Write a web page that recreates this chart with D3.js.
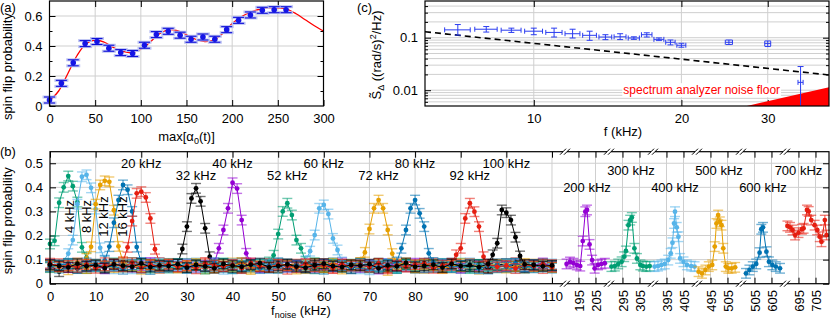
<!DOCTYPE html>
<html>
<head>
<meta charset="utf-8">
<script src="https://cdn.jsdelivr.net/npm/d3@7/dist/d3.min.js"></script>
<style>
  body { margin: 0; background: #fff; }
</style>
</head>
<body>
<svg id="chart" width="830" height="322"></svg>
<script>
// ---------- panel (a) data ----------
const aAmp = [0, 13, 26, 39, 52, 65, 78, 91, 104, 117, 130, 143, 155, 168, 181, 194, 207, 220, 233, 246, 259];
const aProb = [0.040, 0.151, 0.288, 0.416, 0.430, 0.385, 0.356, 0.350, 0.405, 0.476, 0.498,
  0.472, 0.445, 0.460, 0.445, 0.509, 0.571, 0.607, 0.638, 0.642, 0.642];
const aErr = 0.02;
const aFitX = [0, 10, 20, 30, 40, 50, 60, 70, 80, 90, 100, 110, 120, 130, 140, 150,
  160, 170, 180, 190, 200, 210, 220, 230, 240, 250, 260, 270, 280, 290, 300];
const aFitY = [0.035, 0.10, 0.215, 0.335, 0.415, 0.44, 0.425, 0.39, 0.365, 0.355, 0.378,
  0.425, 0.48, 0.508, 0.502, 0.475, 0.445, 0.43, 0.44, 0.485, 0.55, 0.595, 0.625,
  0.645, 0.655, 0.655, 0.645, 0.615, 0.575, 0.535, 0.50];

// ---------- panel (b) data ----------
// coarse scan grid shared by the low-frequency series (kHz)
const mainF = [0, 2, 4, 6, 8, 10, 12, 14, 16, 18, 20, 22, 24, 26,
  28, 30, 32, 34, 36, 38, 40, 42, 44, 46, 48, 50, 52, 54,
  56, 58, 60, 62, 64, 66, 68, 70, 72, 74, 76, 78, 80, 82,
  84, 86, 88, 90, 92, 94, 96, 98, 100, 102, 104, 106, 108, 110];

const base4 = [0.072,0.081,0.066,0.078,0.085,0.070,0.063,0.079,0.074,0.088,0.069,0.076,0.082,0.065,
  0.071,0.084,0.077,0.068,0.073,0.086,0.064,0.075,0.080,0.070,0.083,0.067,0.074,0.079,
  0.072,0.087,0.066,0.078,0.073,0.081,0.069,0.076,0.084,0.071,0.065,0.080,0.075,0.082,
  0.068,0.077,0.073,0.085,0.070,0.079,0.066,0.074,0.081,0.072,0.078,0.069,0.083,0.076];
const base8 = [0.078,0.064,0.083,0.071,0.075,0.089,0.068,0.073,0.080,0.062,0.077,0.084,0.070,0.074,
  0.066,0.079,0.086,0.072,0.069,0.076,0.081,0.063,0.078,0.085,0.071,0.067,0.082,0.074,
  0.080,0.065,0.073,0.088,0.070,0.076,0.062,0.079,0.072,0.083,0.068,0.075,0.081,0.064,
  0.077,0.070,0.086,0.073,0.066,0.080,0.074,0.069,0.084,0.071,0.063,0.078,0.075,0.082];
const base12 = [0.069,0.076,0.058,0.081,0.072,0.064,0.079,0.085,0.067,0.073,0.060,0.078,0.071,0.083,
  0.065,0.074,0.080,0.062,0.077,0.070,0.086,0.068,0.059,0.075,0.082,0.066,0.072,0.079,
  0.063,0.084,0.070,0.076,0.061,0.078,0.073,0.067,0.081,0.055,0.074,0.069,0.077,0.064,
  0.080,0.071,0.066,0.083,0.072,0.060,0.076,0.079,0.068,0.074,0.065,0.081,0.070,0.073];
const base16 = [0.081,0.070,0.075,0.063,0.086,0.072,0.078,0.066,0.074,0.082,0.069,0.059,0.077,0.084,
  0.071,0.065,0.080,0.074,0.068,0.083,0.062,0.076,0.070,0.079,0.064,0.087,0.073,0.067,
  0.078,0.071,0.060,0.082,0.075,0.069,0.085,0.066,0.073,0.080,0.063,0.077,0.070,0.084,
  0.068,0.075,0.081,0.064,0.072,0.078,0.061,0.083,0.070,0.076,0.067,0.079,0.073,0.065];
const base20 = [0.074,0.083,0.068,0.077,0.064,0.080,0.087,0.071,0.066,0.079,0.073,0.085,0.062,0.076,
  0.082,0.069,0.075,0.088,0.067,0.072,0.080,0.063,0.078,0.070,0.084,0.074,0.060,0.081,
  0.069,0.077,0.083,0.065,0.073,0.079,0.086,0.068,0.075,0.062,0.082,0.071,0.067,0.078,
  0.085,0.064,0.076,0.070,0.081,0.073,0.066,0.080,0.072,0.087,0.069,0.074,0.063,0.079];
const base32 = [0.076,0.050,0.082,0.065,0.074,0.079,0.068,0.084,0.072,0.077,0.066,0.081,0.073,0.069,
  0.080,0.075,0.064,0.078,0.083,0.071,0.067,0.086,0.074,0.070,0.079,0.065,0.082,0.076,
  0.071,0.084,0.068,0.075,0.080,0.063,0.077,0.072,0.085,0.069,0.074,0.081,0.066,0.078,
  0.073,0.068,0.082,0.075,0.070,0.079,0.064,0.076,0.083,0.071,0.067,0.080,0.074,0.072];
const base40 = [0.080,0.073,0.067,0.085,0.071,0.076,0.062,0.079,0.083,0.069,0.074,0.088,0.065,0.078,
  0.072,0.081,0.068,0.075,0.063,0.084,0.077,0.070,0.086,0.066,0.073,0.080,0.069,0.076,
  0.082,0.064,0.079,0.071,0.087,0.074,0.068,0.078,0.061,0.083,0.075,0.070,0.085,0.067,
  0.072,0.081,0.076,0.065,0.084,0.073,0.079,0.068,0.074,0.082,0.070,0.077,0.086,0.071];
const base52 = [0.067,0.075,0.082,0.070,0.063,0.078,0.073,0.086,0.069,0.074,0.081,0.065,0.077,0.072,
  0.084,0.068,0.076,0.061,0.079,0.083,0.071,0.066,0.075,0.080,0.064,0.073,0.087,0.070,
  0.078,0.062,0.074,0.082,0.069,0.076,0.085,0.067,0.072,0.079,0.065,0.081,0.073,0.068,
  0.077,0.084,0.070,0.075,0.063,0.080,0.072,0.066,0.078,0.083,0.069,0.074,0.081,0.067];
const base60 = [0.073,0.066,0.079,0.084,0.068,0.075,0.070,0.062,0.081,0.077,0.064,0.072,0.086,0.069,
  0.076,0.080,0.065,0.073,0.078,0.060,0.083,0.071,0.067,0.075,0.082,0.063,0.077,0.070,
  0.085,0.068,0.074,0.079,0.066,0.072,0.080,0.058,0.076,0.083,0.069,0.073,0.064,0.078,
  0.071,0.081,0.067,0.074,0.086,0.062,0.077,0.070,0.082,0.065,0.075,0.079,0.068,0.073];
const base72 = [0.077,0.069,0.074,0.086,0.063,0.080,0.072,0.067,0.083,0.075,0.070,0.079,0.064,0.081,
  0.068,0.076,0.084,0.071,0.066,0.078,0.073,0.087,0.065,0.074,0.069,0.082,0.076,0.061,
  0.079,0.072,0.067,0.085,0.070,0.075,0.081,0.064,0.078,0.068,0.073,0.086,0.066,0.080,
  0.074,0.063,0.077,0.071,0.083,0.069,0.075,0.080,0.065,0.072,0.084,0.070,0.076,0.068];
const base80 = [0.070,0.078,0.083,0.066,0.075,0.081,0.069,0.073,0.060,0.079,0.085,0.071,0.067,0.076,
  0.082,0.064,0.074,0.070,0.087,0.068,0.077,0.072,0.080,0.063,0.075,0.084,0.069,0.078,
  0.066,0.073,0.081,0.071,0.076,0.062,0.083,0.074,0.068,0.079,0.086,0.065,0.072,0.077,
  0.070,0.082,0.067,0.075,0.080,0.064,0.073,0.078,0.069,0.085,0.071,0.066,0.079,0.074];
const base92 = [0.085,0.071,0.076,0.068,0.080,0.064,0.074,0.082,0.070,0.087,0.066,0.078,0.073,0.081,
  0.069,0.075,0.062,0.083,0.077,0.071,0.079,0.065,0.086,0.072,0.068,0.080,0.074,0.067,
  0.083,0.070,0.076,0.063,0.081,0.073,0.078,0.069,0.084,0.066,0.075,0.071,0.079,0.085,
  0.064,0.077,0.072,0.082,0.068,0.074,0.080,0.070,0.076,0.063,0.078,0.073,0.081,0.069];
const base100 = [0.079,0.074,0.068,0.083,0.072,0.077,0.065,0.080,0.075,0.070,0.084,0.069,0.076,0.073,
  0.081,0.067,0.078,0.072,0.064,0.082,0.075,0.070,0.079,0.085,0.068,0.074,0.080,0.071,
  0.066,0.077,0.083,0.073,0.069,0.078,0.075,0.081,0.064,0.076,0.072,0.086,0.070,0.074,
  0.079,0.067,0.082,0.073,0.077,0.069,0.084,0.071,0.075,0.080,0.066,0.078,0.072,0.076];

// resonance points [f (kHz), probability]
const peak4 = [[0,0.165],[1,0.178],[2,0.336],[3,0.40],[4,0.447],[5,0.405],[6,0.339],[7,0.151],[8,0.108]];
const peak8 = [[4,0.125],[5,0.181],[6,0.33],[7,0.444],[8,0.452],[9,0.398],[10,0.31],[11,0.149],[12,0.098]];
const peak12 = [[8,0.105],[9,0.153],[10,0.33],[11,0.41],[12,0.427],[13,0.423],[14,0.305],[15,0.155],[16,0.09]];
const peak16 = [[12,0.095],[13,0.154],[14,0.253],[15,0.347],[16,0.41],[17,0.39],[18,0.30],[19,0.152],[20,0.088]];
const peak20 = [[16,0.09],[17,0.151],[18,0.26],[19,0.375],[20,0.382],[21,0.358],[22,0.271],[23,0.143],[24,0.088]];
const peak32 = [[28,0.082],[29,0.144],[30,0.237],[31,0.354],[32,0.396],[33,0.342],[34,0.23],[35,0.112],[36,0.078]];
const peak40 = [[36,0.085],[37,0.147],[38,0.223],[39,0.313],[40,0.419],[41,0.395],[42,0.264],[43,0.126],[44,0.085]];
const peak52 = [[48,0.09],[49,0.118],[50,0.206],[51,0.30],[52,0.334],[53,0.285],[54,0.181],[55,0.147],[56,0.092]];
const peak60 = [[56,0.095],[57,0.135],[58,0.202],[59,0.313],[60,0.327],[61,0.289],[62,0.188],[63,0.14],[64,0.09]];
const peak72 = [[68,0.088],[69,0.13],[70,0.227],[71,0.313],[72,0.347],[73,0.313],[74,0.223],[75,0.125],[76,0.08]];
const peak80 = [[76,0.09],[77,0.147],[78,0.223],[79,0.313],[80,0.347],[81,0.292],[82,0.237],[83,0.126],[84,0.088]];
const peak92 = [[88,0.085],[89,0.12],[90,0.147],[91,0.271],[92,0.334],[93,0.299],[94,0.237],[95,0.112],[96,0.08]];
const peak100 = [[96,0.082],[97,0.12],[98,0.168],[99,0.306],[100,0.295],[101,0.264],[102,0.193],[103,0.115],[104,0.08]];

// high-frequency scans, each drawn in its own broken-axis segment
const seg200 = [[188,0.082],[190,0.09],[192,0.085],[194,0.078],[196,0.073],[197.5,0.177],[199,0.299],[200,0.306],
  [201.5,0.163],[203,0.098],[204.5,0.064],[206.5,0.078],[208.5,0.082],[210.5,0.085]];
const seg300 = [[288.5,0.071],[290.5,0.073],[292.5,0.082],[294.5,0.091],[296,0.112],[297,0.136],[298.5,0.243],
  [299.5,0.264],[300.5,0.275],[302,0.147],[303.5,0.105],[305.5,0.078],[307,0.073],[309,0.071],[311,0.073]];
const seg400 = [[388,0.071],[390,0.073],[392,0.078],[394,0.082],[396,0.098],[397.5,0.126],[398.5,0.17],[399.5,0.25],
  [400,0.299],[401,0.234],[402,0.195],[403,0.105],[405,0.091],[407,0.078],[409.5,0.073],[411.5,0.071]];
const seg500 = [[488,0.05],[490,0.043],[492,0.057],[494,0.071],[496,0.078],[497.5,0.154],[498.5,0.25],[499.5,0.285],
  [500.5,0.257],[501.5,0.243],[502.5,0.147],[504,0.071],[505.5,0.064],[507.5,0.064],[509.5,0.068]];
const seg600 = [[590,0.043],[592,0.057],[594,0.071],[596,0.082],[598,0.129],[599,0.226],[600,0.234],[602,0.133],
  [603.5,0.091],[605.5,0.078],[607.5,0.071],[610,0.064]];
const seg700 = [[688.5,0.24],[690,0.234],[691.5,0.223],[693,0.202],[695,0.212],[697,0.226],[698,0.23],[700,0.306],
  [701,0.30],[702.5,0.264],[704.5,0.243],[706,0.223],[707.5,0.195],[708.5,0.174],[710.5,0.264],[711.5,0.202]];
const bErr = 0.02;

const mainTicks = [0, 10, 20, 30, 40, 50, 60, 70, 80, 90, 100, 110];
const segCenters = [200, 300, 400, 500, 600, 700];
const segTicks = [[195, 205], [295, 305], [395, 405], [495, 505], [595, 605], [695, 705]];
const segTickText = [["195", "205"], ["295", "305"], ["395", "405"], ["495", "505"], ["505", "605"], ["695", "705"]];
const bYTicks = [0, 0.1, 0.2, 0.3, 0.4, 0.5];

// labels above the peaks: text, frequency, height (probability units)
const peakText = ["20 kHz", "32 kHz", "40 kHz", "52 kHz", "60 kHz", "72 kHz", "80 kHz", "92 kHz", "100 kHz"];
const peakTextF = [20, 32, 40, 52, 60, 72, 80, 92, 100];
const peakTextY = [0.497, 0.451, 0.497, 0.451, 0.497, 0.451, 0.497, 0.451, 0.497];
const segText = ["200 kHz", "300 kHz", "400 kHz", "500 kHz", "600 kHz", "700 kHz"];
const segTextF = [200, 300, 400, 500, 600, 695];
const segTextY = [0.398, 0.469, 0.398, 0.469, 0.398, 0.469];
const sideText = ["4 kHz", "8 kHz", "12 kHz", "16 kHz"];
const sideTextF = [4.2, 8, 11.7, 15.9];

// ---------- panel (c) data ----------
const cF = [7, 8, 9, 10, 11, 12, 13, 14, 15, 16, 17, 18, 19, 20, 25, 30, 35];
const cS = [0.141, 0.145, 0.139, 0.133, 0.126, 0.119, 0.111, 0.103, 0.104, 0.0986, 0.114, 0.093,
  0.0818, 0.0718, 0.0818, 0.0772, 0.0141];
const cLo = [0.112, 0.128, 0.126, 0.114, 0.103, 0.0986, 0.0891, 0.0917, 0.092, 0.093, 0.103, 0.088,
  0.0729, 0.0659, 0.074, 0.0678, 0.001];
const cHi = [0.178, 0.163, 0.152, 0.152, 0.152, 0.145, 0.133, 0.114, 0.119, 0.104, 0.124, 0.099,
  0.0904, 0.0783, 0.0904, 0.0866, 0.0282];
const cFErr = 0.42;
const cTrend = [[6, 0.13], [40, 0.0195]];
const cFloor = [[27.2, 0.005], [40, 0.0114]];
const cYGrid = [0.006, 0.007, 0.008, 0.009, 0.01, 0.02, 0.03, 0.04, 0.05, 0.06, 0.07, 0.08, 0.09, 0.1, 0.2, 0.3, 0.4];

// ---------- common ----------
const FONT = '"Liberation Sans", Arial, Helvetica, sans-serif';
const GRID = "#cfcfcf";
const pal = {
	green: "#009e73", lblue: "#56b4e9", orange: "#e69f00", blue: "#0072b2",
	red: "#e51e10", black: "#000000", purple: "#9400d3",
};

const svg = d3.select("#chart").attr("font-family", FONT).attr("font-size", 13);

function addAxis(axis, tx, ty) {
	const g = svg.append("g").attr("transform", `translate(${tx},${ty})`).call(axis);
	g.attr("font-family", FONT).attr("font-size", 13);
	g.select(".domain").remove();
	g.selectAll("text").attr("fill", "#000");
	return g;
}

function frame(box) {
	svg.append("rect")
		.attr("x", box.l).attr("y", box.t)
		.attr("width", box.r - box.l).attr("height", box.b - box.t)
		.attr("fill", "none").attr("stroke", "#000").attr("stroke-width", 1.2);
}

const probFmt = (d) => (d === 0 ? "0" : d3.format(".1f")(d));

// ================= panel (a) =================
const aBox = { l: 49.5, r: 323.5, t: 1, b: 106 };
const aX = d3.scaleLinear().domain([0, 300]).range([aBox.l, aBox.r]);
const aY = d3.scaleLinear().domain([0, 0.7]).range([aBox.b, aBox.t]);

const aGrid = svg.append("g").attr("stroke", GRID);
aGrid.selectAll("line.v").data([50, 100, 150, 200, 250]).join("line").attr("class", "v")
	.attr("x1", (d) => aX(d)).attr("x2", (d) => aX(d)).attr("y1", aBox.t).attr("y2", aBox.b);
aGrid.selectAll("line.h").data([0.2, 0.4, 0.6]).join("line").attr("class", "h")
	.attr("x1", aBox.l).attr("x2", aBox.r).attr("y1", (d) => aY(d)).attr("y2", (d) => aY(d));

addAxis(d3.axisBottom(aX).tickValues([0, 50, 100, 150, 200, 250, 300]).tickSize(-6).tickPadding(8), 0, aBox.b);
addAxis(d3.axisTop(aX).tickValues([50, 100, 150, 200, 250]).tickSize(-6).tickFormat(""), 0, aBox.t);
addAxis(d3.axisLeft(aY).tickValues([0, 0.2, 0.4, 0.6]).tickSize(-6).tickPadding(7).tickFormat(probFmt), aBox.l, 0);
addAxis(d3.axisRight(aY).tickValues([0.2, 0.4, 0.6]).tickSize(-6).tickFormat(""), aBox.r, 0);
addAxis(d3.axisLeft(aY).tickValues([0.1, 0.3, 0.5]).tickSize(-3).tickFormat(""), aBox.l, 0);
addAxis(d3.axisRight(aY).tickValues([0.1, 0.3, 0.5]).tickSize(-3).tickFormat(""), aBox.r, 0);

const aPts = aAmp.map((x, i) => ({ x, y: aProb[i] }));
const aFit = aFitX.map((x, i) => ({ x, y: aFitY[i] }));

svg.append("path").datum(aFit)
	.attr("fill", "none").attr("stroke", "#ff0000").attr("stroke-width", 1.3)
	.attr("d", d3.line().x((d) => aX(d.x)).y((d) => aY(d.y)).curve(d3.curveCatmullRom));

const aEb = svg.append("g");
aPts.forEach((d) => {
	const x = aX(d.x);
	[d.y - aErr, d.y + aErr].forEach((v) => {
		aEb.append("line").attr("x1", x - 7).attr("x2", x + 7).attr("y1", aY(v)).attr("y2", aY(v))
			.attr("stroke", "#bcc2f2").attr("stroke-width", 3);
	});
});
aPts.forEach((d) => {
	const x = aX(d.x);
	aEb.append("line").attr("x1", x).attr("x2", x).attr("y1", aY(d.y - aErr)).attr("y2", aY(d.y + aErr))
		.attr("stroke", "#1010d8").attr("stroke-width", 1);
	[d.y - aErr, d.y + aErr].forEach((v) => {
		aEb.append("line").attr("x1", x - 5.5).attr("x2", x + 5.5).attr("y1", aY(v)).attr("y2", aY(v))
			.attr("stroke", "#1010d8").attr("stroke-width", 1.1);
	});
});
svg.append("g").selectAll("circle").data(aPts).join("circle")
	.attr("cx", (d) => aX(d.x)).attr("cy", (d) => aY(d.y)).attr("r", 2.8).attr("fill", "#1515e6");

frame(aBox);

svg.append("text").attr("x", 0).attr("y", 12).text("(a)");
svg.append("text").attr("transform", `translate(12,${(aBox.t + aBox.b) / 2 + 13}) rotate(-90)`)
	.attr("text-anchor", "middle").text("spin flip probability");
const aXl = svg.append("text").attr("x", (aBox.l + aBox.r) / 2).attr("y", 141).attr("text-anchor", "middle");
aXl.append("tspan").text("max[α");
aXl.append("tspan").attr("font-size", 9).attr("dy", 3).text("0");
aXl.append("tspan").attr("dy", -3).text("(t)]");

// ================= panel (c) =================
const cBox = { l: 425, r: 829, t: 1, b: 106 };
const cX = d3.scaleLog().domain([6, 40]).range([cBox.l, cBox.r]);
const cY = d3.scaleLog().domain([0.005, 0.5]).range([cBox.b, cBox.t]);

svg.append("clipPath").attr("id", "clipC").append("rect")
	.attr("x", cBox.l).attr("y", cBox.t).attr("width", cBox.r - cBox.l).attr("height", cBox.b - cBox.t);

const cGrid = svg.append("g").attr("stroke", GRID);
cGrid.selectAll("line.h").data(cYGrid).join("line").attr("class", "h")
	.attr("x1", cBox.l).attr("x2", cBox.r).attr("y1", (d) => cY(d)).attr("y2", (d) => cY(d));
cGrid.selectAll("line.v").data([10, 20, 30]).join("line").attr("class", "v")
	.attr("x1", (d) => cX(d)).attr("x2", (d) => cX(d)).attr("y1", cBox.t).attr("y2", cBox.b);

addAxis(d3.axisBottom(cX).tickValues([10, 20, 30]).tickFormat(d3.format("d")).tickSize(-6).tickPadding(8), 0, cBox.b);
addAxis(d3.axisTop(cX).tickValues([10, 20, 30]).tickFormat("").tickSize(-6), 0, cBox.t);
addAxis(d3.axisLeft(cY).tickValues([0.01, 0.1]).tickFormat((d) => (d === 0.1 ? "0.1" : "0.01")).tickSize(-6).tickPadding(7), cBox.l, 0);
addAxis(d3.axisRight(cY).tickValues([0.01, 0.1]).tickFormat("").tickSize(-6), cBox.r, 0);
const cMinor = cYGrid.filter((d) => d !== 0.01 && d !== 0.1);
addAxis(d3.axisLeft(cY).tickValues(cMinor).tickFormat("").tickSize(-3), cBox.l, 0);
addAxis(d3.axisRight(cY).tickValues(cMinor).tickFormat("").tickSize(-3), cBox.r, 0);

const cPlot = svg.append("g").attr("clip-path", "url(#clipC)");

cPlot.append("path").datum(cFloor.concat([[40, 0.005]]))
	.attr("fill", "#ff0000").attr("stroke", "none")
	.attr("d", d3.line().x((d) => cX(d[0])).y((d) => cY(d[1])));

cPlot.append("path").datum(cTrend)
	.attr("fill", "none").attr("stroke", "#000").attr("stroke-width", 1.6).attr("stroke-dasharray", "6,4")
	.attr("d", d3.line().x((d) => cX(d[0])).y((d) => cY(d[1])));

const cPts = cF.map((f, i) => ({ f, s: cS[i], lo: cLo[i], hi: cHi[i] }));
const cEb = cPlot.append("g").attr("stroke", "#2a3cf0").attr("stroke-width", 1);
cPts.forEach((d) => {
	const x = cX(d.f), y = cY(d.s);
	const x0 = cX(d.f - cFErr), x1 = cX(d.f + cFErr);
	cEb.append("line").attr("x1", x0).attr("x2", x1).attr("y1", y).attr("y2", y);
	cEb.append("line").attr("x1", x0).attr("x2", x0).attr("y1", y - 2.5).attr("y2", y + 2.5);
	cEb.append("line").attr("x1", x1).attr("x2", x1).attr("y1", y - 2.5).attr("y2", y + 2.5);
	cEb.append("line").attr("x1", x).attr("x2", x).attr("y1", cY(d.lo)).attr("y2", cY(d.hi));
	[d.lo, d.hi].forEach((v) => {
		cEb.append("line").attr("x1", x - 3).attr("x2", x + 3).attr("y1", cY(v)).attr("y2", cY(v));
	});
});

frame(cBox);

const floorLbl = svg.append("g");
const floorTxt = floorLbl.append("text")
	.attr("x", cX(22)).attr("y", cY(0.01) + 4).attr("text-anchor", "middle")
	.attr("font-size", 12).attr("fill", "#ff0000").text("spectrum analyzer noise floor");
const fb = floorTxt.node().getBBox();
floorLbl.insert("rect", "text").attr("x", fb.x - 1).attr("y", fb.y).attr("width", fb.width + 2).attr("height", fb.height)
	.attr("fill", "#fff");

svg.append("text").attr("x", 357).attr("y", 12).text("(c)");
svg.append("text").attr("x", (cBox.l + cBox.r) / 2 - 4).attr("y", 136).attr("text-anchor", "middle").text("f (kHz)");
const cYl = svg.append("text").attr("transform", "translate(381,55) rotate(-90)").attr("text-anchor", "middle");
cYl.append("tspan").text("S\u0303");
cYl.append("tspan").attr("font-size", 9).attr("dy", 3).text("Δ");
cYl.append("tspan").attr("dy", -3).text(" ((rad/s)");
cYl.append("tspan").attr("font-size", 9).attr("dy", -5).text("2");
cYl.append("tspan").attr("dy", 5).text("/Hz)");

// ================= panel (b) =================
const bBox = { l: 50, r: 829, t: 151.7, b: 283.7 };
const bY = d3.scaleLinear().domain([0, 0.548]).range([bBox.b, bBox.t]);
const bMain = d3.scaleLinear().domain([0, 112.85]).range([bBox.l, 565]);
const segScales = segCenters.map((c, k) =>
	d3.scaleLinear().domain([c - 12.94, c + 12.94]).range([565 + 44 * k, 609 + 44 * k]));

const bGrid = svg.append("g").attr("stroke", GRID);
bGrid.selectAll("line.h").data(bYTicks.slice(1)).join("line").attr("class", "h")
	.attr("x1", bBox.l).attr("x2", bBox.r).attr("y1", (d) => bY(d)).attr("y2", (d) => bY(d));
bGrid.selectAll("line.v").data(mainTicks.slice(1)).join("line").attr("class", "v")
	.attr("x1", (d) => bMain(d)).attr("x2", (d) => bMain(d)).attr("y1", bBox.t).attr("y2", bBox.b);
segScales.forEach((s, k) => {
	bGrid.selectAll("line.s" + k).data(segTicks[k]).join("line").attr("class", "s" + k)
		.attr("x1", (d) => s(d)).attr("x2", (d) => s(d)).attr("y1", bBox.t).attr("y2", bBox.b);
});

addAxis(d3.axisBottom(bMain).tickValues(mainTicks).tickSize(-6).tickPadding(8), 0, bBox.b);
addAxis(d3.axisTop(bMain).tickValues(mainTicks).tickSize(-6).tickFormat(""), 0, bBox.t);
segScales.forEach((s, k) => {
	addAxis(d3.axisBottom(s).tickValues(segTicks[k]).tickSize(-6).tickFormat(""), 0, bBox.b);
	addAxis(d3.axisTop(s).tickValues(segTicks[k]).tickSize(-6).tickFormat(""), 0, bBox.t);
	segTicks[k].forEach((v, j) => {
		svg.append("text").attr("transform", `translate(${s(v) + 1},290) rotate(-90)`)
			.attr("text-anchor", "end").attr("dominant-baseline", "central").text(segTickText[k][j]);
	});
});
addAxis(d3.axisLeft(bY).tickValues(bYTicks).tickSize(-6).tickPadding(7).tickFormat(probFmt), bBox.l, 0);
addAxis(d3.axisRight(bY).tickValues(bYTicks).tickSize(-6).tickFormat(""), bBox.r, 0);

function mergeScan(base, peak) {
	const lo = d3.min(peak, (d) => d[0]);
	const hi = d3.max(peak, (d) => d[0]);
	const pts = mainF.map((f, i) => [f, base[i]]).filter((d) => d[0] < lo || d[0] > hi);
	return pts.concat(peak).sort((a, b) => a[0] - b[0]);
}

function drawScan(pts, xs, color) {
	const g = svg.append("g");
	g.append("path").datum(pts)
		.attr("fill", "none").attr("stroke", color).attr("stroke-width", 1)
		.attr("d", d3.line().x((d) => xs(d[0])).y((d) => bY(d[1])));
	const eb = g.append("g").attr("stroke", color).attr("stroke-opacity", 0.55).attr("stroke-width", 1.4);
	eb.selectAll("line.v").data(pts).join("line").attr("class", "v")
		.attr("x1", (d) => xs(d[0])).attr("x2", (d) => xs(d[0]))
		.attr("y1", (d) => bY(d[1] - bErr)).attr("y2", (d) => bY(d[1] + bErr));
	eb.selectAll("line.lo").data(pts).join("line").attr("class", "lo")
		.attr("x1", (d) => xs(d[0]) - 5).attr("x2", (d) => xs(d[0]) + 5)
		.attr("y1", (d) => bY(d[1] - bErr)).attr("y2", (d) => bY(d[1] - bErr));
	eb.selectAll("line.hi").data(pts).join("line").attr("class", "hi")
		.attr("x1", (d) => xs(d[0]) - 5).attr("x2", (d) => xs(d[0]) + 5)
		.attr("y1", (d) => bY(d[1] + bErr)).attr("y2", (d) => bY(d[1] + bErr));
	g.selectAll("circle").data(pts).join("circle")
		.attr("cx", (d) => xs(d[0])).attr("cy", (d) => bY(d[1])).attr("r", 2.4).attr("fill", color);
}

const mainScans = [
	[base4, peak4, pal.green], [base8, peak8, pal.lblue], [base12, peak12, pal.orange],
	[base16, peak16, pal.blue], [base20, peak20, pal.red], [base32, peak32, pal.black],
	[base40, peak40, pal.purple], [base52, peak52, pal.green], [base60, peak60, pal.lblue],
	[base72, peak72, pal.orange], [base80, peak80, pal.blue], [base92, peak92, pal.red],
	[base100, peak100, pal.black],
];
mainScans.forEach(([base, peak, color]) => drawScan(mergeScan(base, peak), bMain, color));

const segScans = [seg200, seg300, seg400, seg500, seg600, seg700];
const segColors = [pal.purple, pal.green, pal.lblue, pal.orange, pal.blue, pal.red];
segScans.forEach((pts, k) => drawScan(pts, segScales[k], segColors[k]));

frame(bBox);

// axis break marks
const brk = svg.append("g");
segScales.forEach((s) => {
	const x = s.range()[0];
	[bBox.t, bBox.b].forEach((y) => {
		brk.append("rect").attr("x", x - 2).attr("y", y - 2).attr("width", 4).attr("height", 4).attr("fill", "#fff");
		[-2, 2].forEach((dx) => {
			brk.append("line").attr("x1", x + dx - 3).attr("y1", y + 3).attr("x2", x + dx + 3).attr("y2", y - 3)
				.attr("stroke", "#000").attr("stroke-width", 1);
		});
	});
});

// annotations
peakText.forEach((t, i) => {
	svg.append("text").attr("x", bMain(peakTextF[i])).attr("y", bY(peakTextY[i]))
		.attr("text-anchor", "middle").attr("dominant-baseline", "central").text(t);
});
segText.forEach((t, i) => {
	svg.append("text").attr("x", segScales[i](segTextF[i])).attr("y", bY(segTextY[i]))
		.attr("text-anchor", "middle").attr("dominant-baseline", "central").text(t);
});
sideText.forEach((t, i) => {
	svg.append("text").attr("transform", `translate(${bMain(sideTextF[i])},${bY(0.279)}) rotate(-90)`)
		.attr("text-anchor", "middle").attr("dominant-baseline", "central").text(t);
});

svg.append("text").attr("x", 0).attr("y", 156).text("(b)");
svg.append("text").attr("transform", `translate(12,${(bBox.t + bBox.b) / 2 + 3}) rotate(-90)`)
	.attr("text-anchor", "middle").text("spin flip probability");
const bXl = svg.append("text").attr("x", 301).attr("y", 315).attr("text-anchor", "middle");
bXl.append("tspan").text("f");
bXl.append("tspan").attr("font-size", 9).attr("dy", 3).text("noise");
bXl.append("tspan").attr("dy", -3).text(" (kHz)");
</script>
</body>
</html>
